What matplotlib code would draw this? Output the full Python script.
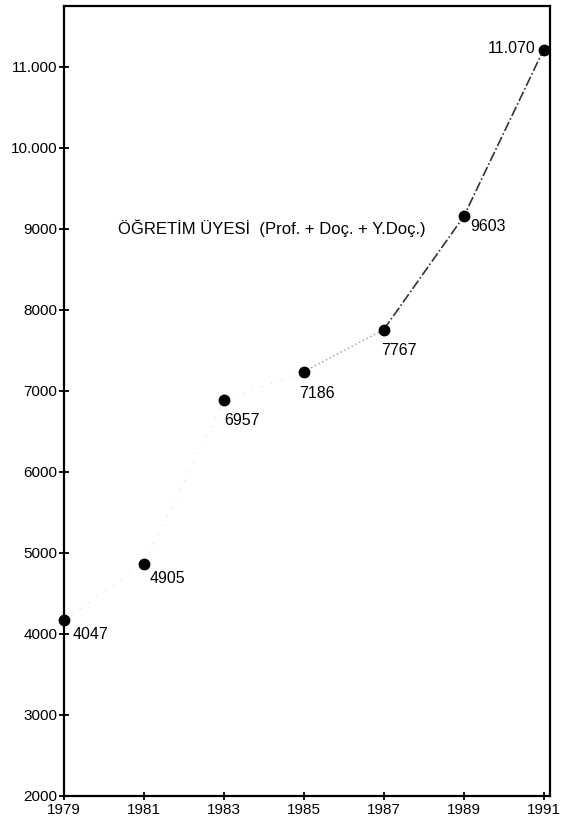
import matplotlib.pyplot as plt

plt.rcParams['font.family'] = ['Liberation Sans', 'DejaVu Sans']

years = [1979, 1981, 1983, 1985, 1987, 1989, 1991]
# where the dots sit in the drawing
plot_y = [4170, 4865, 6880, 7235, 7755, 9150, 11210]
# the printed values
labels = ['4047', '4905', '6957', '7186', '7767', '9603', '11.070']
yticks = [2000, 3000, 4000, 5000, 6000, 7000, 8000, 9000, 10000, 11000]
ytick_labels = ['2000', '3000', '4000', '5000', '6000', '7000', '8000', '9000', '10.000', '11.000']
title = 'ÖĞRETİM ÜYESİ  (Prof. + Doç. + Y.Doç.)'

# label offsets in points and alignment
offsets = [(6, -5, 'left', 'top'), (4, -5, 'left', 'top'), (0, -9, 'left', 'top'),
           (-3, -10, 'left', 'top'), (-2, -10, 'left', 'top'), (5, -2, 'left', 'top'),
           (-6, 1, 'right', 'center')]

fig = plt.figure(figsize=(5.86, 8.24), dpi=100)
ax = fig.add_axes([0.109, 0.034, 0.829, 0.959])

# faint early part, darker later part
ax.plot(years[:4], plot_y[:4], color='#dddddd', lw=0.8, ls=(0, (1, 8)))
ax.plot(years[3:5], plot_y[3:5], color='#999999', lw=1.0, ls=(0, (1, 2)))
ax.plot(years[4:], plot_y[4:], color='#333333', lw=1.2, ls=(0, (6, 1.5, 1, 1.5)))
ax.plot(years, plot_y, 'o', color='black', ms=7.5, clip_on=False, zorder=3)

for x, y, t, (dx, dy, ha, va) in zip(years, plot_y, labels, offsets):
    ax.annotate(t, (x, y), xytext=(dx, dy), textcoords='offset points',
                ha=ha, va=va, fontsize=11.5)

ax.text(1984.2, 9000, title, fontsize=12, ha='center', va='center')

ax.set_xlim(1979, 1991.15)
ax.set_ylim(2000, 11750)
ax.set_xticks(years)
ax.set_xticklabels([str(y) for y in years], fontsize=11)
ax.set_yticks(yticks)
ax.set_yticklabels(ytick_labels, fontsize=11)
ax.tick_params(axis='y', direction='inout', length=7, width=1.3, pad=1)
ax.tick_params(axis='x', direction='inout', length=6, width=1.3, pad=2)
for s in ax.spines.values():
    s.set_linewidth(1.6)

fig.savefig('out.png', dpi=100)
